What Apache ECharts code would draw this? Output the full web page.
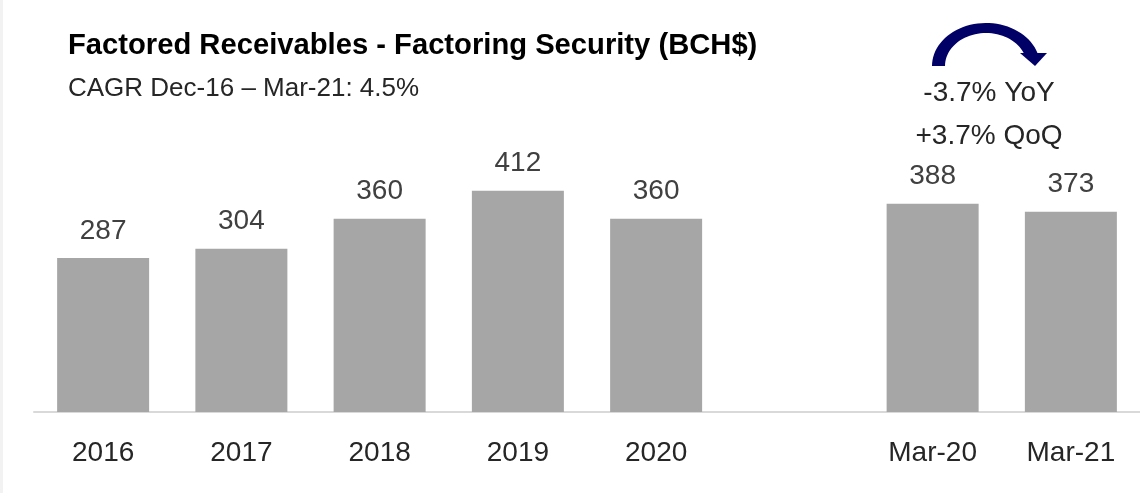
<!DOCTYPE html>
<html>
<head>
<meta charset="utf-8">
<script src="https://cdn.jsdelivr.net/npm/echarts@6/dist/echarts.min.js"></script>
<style>
  html, body { margin: 0; padding: 0; background: #ffffff; }
  #chart { width: 1140px; height: 493px; }
</style>
</head>
<body>
<div id="chart"></div>
<script>
// Factored receivables, year-end balances plus the two March quarters (BCH$)
const categories = ['2016', '2017', '2018', '2019', '2020', '', 'Mar-20', 'Mar-21'];
const receivables = [287, 304, 360, 412, 360, null, 388, 373];

const titleText = 'Factored Receivables - Factoring Security (BCH$)';
const cagrText = 'CAGR Dec-16 \u2013 Mar-21: 4.5%';
const yoyText = '-3.7% YoY';
const qoqText = '+3.7% QoQ';

const FONT = '"Liberation Sans", Arial, Helvetica, sans-serif';
const LABEL_COLOR = '#404040';
const DARK_TEXT = '#262626';
const BAR_COLOR = '#a6a6a6';
const NAVY = '#000066';

// Curved arrow band (outer arc out, inner arc back) above the March bars
function arcBand(cx, cy, rxO, ryO, rxI, ryI, endO, endI) {
  const pts = [];
  const n = 40;
  for (let i = 0; i <= n; i++) {
    const a = Math.PI - (Math.PI - endO) * i / n;
    pts.push([cx + rxO * Math.cos(a), cy - ryO * Math.sin(a)]);
  }
  for (let i = 0; i <= n; i++) {
    const a = endI + (Math.PI - endI) * i / n;
    pts.push([cx + rxI * Math.cos(a), cy - ryI * Math.sin(a)]);
  }
  return pts;
}
const bandPts = arcBand(986, 66, 54, 43, 41, 33, Math.asin(13 / 43), Math.asin(13 / 33));

const chart = echarts.init(document.getElementById('chart'), null, { renderer: 'canvas' });

chart.setOption({
  animation: false,
  backgroundColor: '#ffffff',
  grid: { left: 34, right: 0, top: 143.5, bottom: 81, containLabel: false },
  xAxis: {
    type: 'category',
    data: categories,
    axisLine: { show: true, lineStyle: { color: '#d9d9d9', width: 2 } },
    axisTick: { show: false },
    axisLabel: { color: DARK_TEXT, fontSize: 28, fontFamily: FONT, margin: 27, interval: 0 },
    splitLine: { show: false }
  },
  yAxis: {
    type: 'value',
    min: 0,
    max: 500,
    show: false
  },
  series: [{
    type: 'bar',
    data: receivables,
    barWidth: 92,
    itemStyle: { color: BAR_COLOR },
    label: {
      show: true,
      position: 'top',
      distance: 13,
      color: LABEL_COLOR,
      fontSize: 28,
      fontFamily: FONT
    }
  }],
  graphic: [
    { type: 'rect', shape: { x: 0, y: 0, width: 3, height: 493 }, style: { fill: '#f2f2f2' }, silent: true },
    {
      type: 'text', x: 68, y: 46,
      style: { text: titleText, font: 'bold 29.2px ' + FONT, fill: '#000000', verticalAlign: 'middle', textVerticalAlign: 'middle' }
    },
    {
      type: 'text', x: 68, y: 89,
      style: { text: cagrText, font: '26px ' + FONT, fill: DARK_TEXT, verticalAlign: 'middle', textVerticalAlign: 'middle' }
    },
    {
      type: 'text', x: 989, y: 93.3,
      style: { text: yoyText, font: '28px ' + FONT, fill: DARK_TEXT, align: 'center', textAlign: 'center', verticalAlign: 'middle', textVerticalAlign: 'middle' }
    },
    {
      type: 'text', x: 989, y: 136.3,
      style: { text: qoqText, font: '28px ' + FONT, fill: DARK_TEXT, align: 'center', textAlign: 'center', verticalAlign: 'middle', textVerticalAlign: 'middle' }
    },
    { type: 'polygon', shape: { points: bandPts }, style: { fill: NAVY }, silent: true },
    { type: 'polygon', shape: { points: [[1020, 53], [1047, 53], [1035, 66]] }, style: { fill: NAVY }, silent: true }
  ]
});
</script>
</body>
</html>
